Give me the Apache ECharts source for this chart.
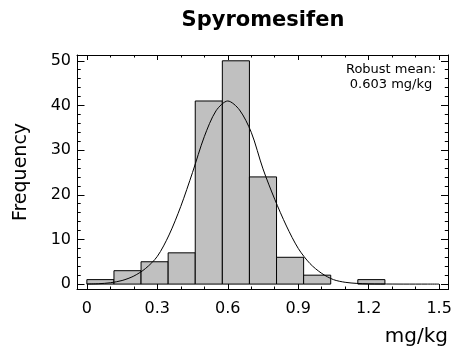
<!DOCTYPE html>
<html>
<head>
<meta charset="utf-8">
<script src="https://cdn.jsdelivr.net/npm/echarts@6/dist/echarts.min.js"></script>
<style>html,body{margin:0;padding:0;background:#fff;}#c{width:457px;height:351px;}</style>
</head>
<body>
<div id="c"></div>
<script>
// ---- data ----
const chartTitle = 'Spyromesifen';
const xName = 'mg/kg';
const yName = 'Frequency';
const noteLines = ['Robust mean:', '0.603 mg/kg'];
const binStart = 0;
const binEnd = 1.5;
const binCounts = [1, 3, 5, 7, 41, 50, 24, 6, 2, 0, 1, 0, 0];
const curveX = [0, 0.05, 0.10, 0.15, 0.20, 0.25, 0.30, 0.35, 0.40, 0.45, 0.50, 0.55, 0.60, 0.65, 0.70, 0.75, 0.80, 0.85, 0.90, 0.95, 1.00, 1.05, 1.10, 1.15, 1.20, 1.25, 1.30, 1.35, 1.40, 1.45, 1.50];
const curveY = [0.02, 0.08, 0.3, 0.8, 1.8, 3.5, 6.2, 11.0, 17.4, 25.0, 33.0, 38.8, 41.0, 39.0, 34.0, 25.8, 19.0, 13.0, 8.0, 4.6, 2.4, 1.0, 0.4, 0.15, 0.05, 0.02, 0.01, 0, 0, 0, 0];
const xTickLabels = [0, 0.3, 0.6, 0.9, 1.2, 1.5];
const xMinorTicks = [0.1, 0.2, 0.4, 0.5, 0.7, 0.8, 1.0, 1.1, 1.3, 1.4];
const yTickLabels = [0, 10, 20, 30, 40, 50];
const yMinorTicks = [2, 4, 6, 8, 12, 14, 16, 18, 22, 24, 26, 28, 32, 34, 36, 38, 42, 44, 46, 48];

// ---- layout ----
const XMIN = -0.042, XMAX = 1.54;
const YMIN = -1.1, YMAX = 51.3;
const FONT = 'DejaVu Sans';
const binW = (binEnd - binStart) / binCounts.length;
const histData = binCounts.map((c, i) => [binStart + i * binW, binStart + (i + 1) * binW, c]).filter(d => d[2] > 0);
const curveData = curveX.map((x, i) => [x, curveY[i]]);

const lineStyle = { color: '#000', width: 1 };
function xAx(pos, ticks, len, showLine, labels) {
  return {
    type: 'value', position: pos, min: XMIN, max: XMAX,
    axisLine: { show: showLine, onZero: false, lineStyle },
    axisTick: { show: true, inside: true, length: len, customValues: ticks, lineStyle },
    axisLabel: labels ? { show: true, customValues: labels, color: '#000', fontFamily: FONT, fontSize: 16, margin: 12, formatter: v => String(v) } : { show: false },
    splitLine: { show: false }, minorTick: { show: false }
  };
}
function yAx(pos, ticks, len, showLine, labels) {
  const a = {
    type: 'value', position: pos, min: YMIN, max: YMAX,
    axisLine: { show: showLine, onZero: false, lineStyle },
    axisTick: { show: true, inside: true, length: len, customValues: ticks, lineStyle },
    axisLabel: labels ? { show: true, customValues: labels, color: '#000', fontFamily: FONT, fontSize: 16, margin: 6 } : { show: false },
    splitLine: { show: false }, minorTick: { show: false }
  };
  if (labels) {
    a.name = yName; a.nameLocation = 'middle'; a.nameGap = 46;
    a.nameTextStyle = { color: '#000', fontFamily: FONT, fontSize: 19 };
  }
  return a;
}

const chart = echarts.init(document.getElementById('c'), null, { renderer: 'canvas' });
chart.setOption({
  animation: false,
  backgroundColor: '#fff',
  grid: { left: 77, top: 55, width: 371.5, height: 234, containLabel: false },
  xAxis: [
    xAx('bottom', xTickLabels, 5, true, xTickLabels),
    xAx('bottom', xMinorTicks, 2.5, false, null),
    xAx('top', xTickLabels, 5, true, null),
    xAx('top', xMinorTicks, 2.5, false, null)
  ],
  yAxis: [
    yAx('left', yTickLabels, 7.5, true, yTickLabels),
    yAx('left', yMinorTicks, 3.7, false, null),
    yAx('right', yTickLabels, 7.5, true, null),
    yAx('right', yMinorTicks, 3.7, false, null)
  ],
  graphic: [
    { type: 'text', x: 263, y: 21, style: { text: chartTitle, textAlign: 'center', textVerticalAlign: 'middle', font: 'bold 21px "' + FONT + '"', fill: '#000' } },
    { type: 'text', x: 448, y: 337, style: { text: xName, textAlign: 'right', textVerticalAlign: 'middle', font: '20px "' + FONT + '"', fill: '#000' } },
    { type: 'text', x: 391, y: 70, style: { text: noteLines[0], textAlign: 'center', textVerticalAlign: 'middle', font: '13px "' + FONT + '"', fill: '#000' } },
    { type: 'text', x: 391, y: 85, style: { text: noteLines[1], textAlign: 'center', textVerticalAlign: 'middle', font: '13px "' + FONT + '"', fill: '#000' } }
  ],
  series: [
    {
      type: 'custom', xAxisIndex: 0, yAxisIndex: 0,
      data: histData,
      encode: { x: [0, 1], y: 2 },
      renderItem: function (params, api) {
        const p0 = api.coord([api.value(0), api.value(2)]);
        const p1 = api.coord([api.value(1), 0]);
        return {
          type: 'rect',
          shape: { x: p0[0], y: p0[1], width: p1[0] - p0[0], height: p1[1] - p0[1] },
          style: { fill: '#c0c0c0', stroke: '#000', lineWidth: 1 }
        };
      },
      z: 2
    },
    {
      type: 'line', xAxisIndex: 0, yAxisIndex: 0,
      data: curveData, smooth: 0.3, showSymbol: false, symbol: 'none',
      lineStyle: { color: '#000', width: 1 }, z: 3
    }
  ]
});
</script>
</body>
</html>
